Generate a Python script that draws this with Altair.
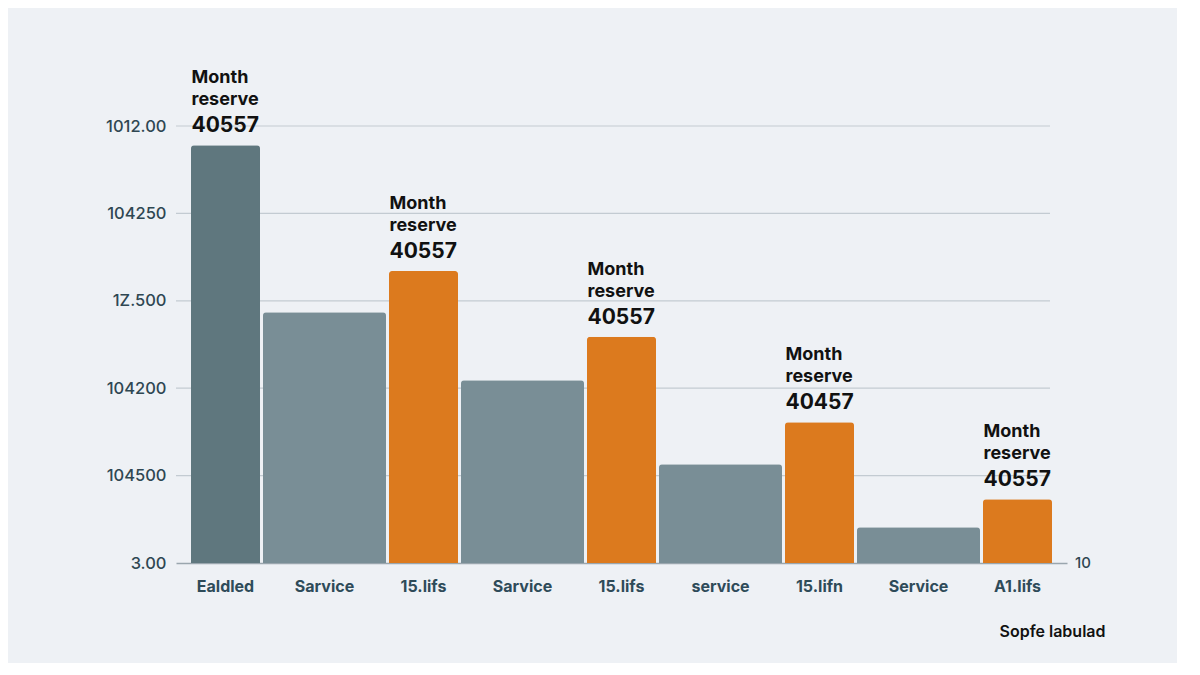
import altair as alt
import pandas as pd

# category labels, bar heights (in y-tick units), bar kind and the note over bars
labels = ["Ealdled", "Sarvice", "15.lifs", "Sarvice", "15.lifs", "service", "15.lifn", "Service", "A1.lifs"]
values = [4.78, 2.87, 3.34, 2.09, 2.59, 1.13, 1.61, 0.41, 0.73]
kinds = ["dark", "gray", "orange", "gray", "orange", "gray", "orange", "gray", "orange"]
notes = ["40557", "", "40557", "", "40557", "", "40457", "", "40557"]

y_ticks = [0, 1, 2, 3, 4, 5]
y_tick_labels = ["3.00", "104500", "104200", "1Z.500", "104250", "1012.00"]

df = pd.DataFrame({
    "idx": list(range(len(labels))),
    "label": labels,
    "value": values,
    "kind": kinds,
    "note": notes,
})

W, H = 891, 437
FONT = "Inter"

x_label_expr = "[" + ",".join("'%s'" % s for s in labels) + "][datum.value]"
y_label_expr = "[" + ",".join("'%s'" % s for s in y_tick_labels) + "][datum.value]"

x_enc = alt.X("idx:O", scale=alt.Scale(paddingInner=0, paddingOuter=0),
              axis=alt.Axis(labelExpr=x_label_expr, labelAngle=0, ticks=False,
                            domainColor="#9aa6ae", domainWidth=1.5,
                            labelFont=FONT, labelFontSize=16, labelFontWeight="bold",
                            labelColor="#2e4b59", labelPadding=15, labelBaseline="top",
                            title="Sopfe labulad", titleFont=FONT, titleFontSize=16,
                            titleFontWeight=600, titleColor="#111111",
                            titleX=929, titleY=60, titleAlign="right", titleBaseline="top"))

y_scale = alt.Scale(domain=[0, 5], nice=False)
y_enc = alt.Y("value:Q", scale=y_scale,
              axis=alt.Axis(values=y_ticks, labelExpr=y_label_expr, title=None,
                            domain=False, ticks=False, grid=False,
                            labelFont=FONT, labelFontSize=16.5,
                            labelFontWeight=500, labelColor="#2f4752", labelPadding=10))
color_enc = alt.Color("kind:N", legend=None,
                      scale=alt.Scale(domain=["dark", "gray", "orange"],
                                      range=["#5f777e", "#798e96", "#dc7a1e"]))

# horizontal grid lines, stopping short of the right end of the baseline
grid = alt.Chart(pd.DataFrame({"v": y_ticks[1:]})).mark_rule(
    color="#c3cbd2", strokeWidth=1.2
).encode(y=alt.Y("v:Q", scale=y_scale), x=alt.value(0), x2=alt.value(874))

# narrow bars (dark + orange) and wide gray "service" bars
narrow = alt.Chart(df).transform_filter("datum.kind != 'gray'").mark_bar(
    size=69, cornerRadiusTopLeft=3, cornerRadiusTopRight=3
).encode(x=x_enc, y=y_enc, color=color_enc)

wide = alt.Chart(df).transform_filter("datum.kind == 'gray'").mark_bar(
    size=123, cornerRadiusTopLeft=3, cornerRadiusTopRight=3
).encode(x=x_enc, y=y_enc, color=color_enc)

noted = alt.Chart(df).transform_filter("datum.note != ''")

num_text = noted.mark_text(align="left", baseline="middle", dx=-34, dy=-19,
                           font=FONT, fontSize=21, fontWeight="bold", color="#111111").encode(
    x="idx:O", y=alt.Y("value:Q", scale=y_scale), text="note:N")

reserve_text = noted.mark_text(align="left", baseline="middle", dx=-34, dy=-45,
                               font=FONT, fontSize=18, fontWeight="bold", color="#111111").encode(
    x="idx:O", y=alt.Y("value:Q", scale=y_scale), text=alt.value("reserve"))

month_text = noted.mark_text(align="left", baseline="middle", dx=-34, dy=-67,
                             font=FONT, fontSize=18, fontWeight="bold", color="#111111").encode(
    x="idx:O", y=alt.Y("value:Q", scale=y_scale), text=alt.value("Month"))

right_label = alt.Chart(pd.DataFrame({"v": [0]})).mark_text(
    align="left", baseline="middle", font=FONT, fontSize=15, fontWeight=500,
    color="#2f4752").encode(x=alt.value(W + 8), y=alt.Y("v:Q", scale=y_scale), text=alt.value("10"))

chart = alt.layer(grid, wide, narrow, num_text, reserve_text, month_text, right_label).properties(
    width=W, height=H,
    autosize=alt.AutoSizeParams(type="none"),
    padding={"left": 168, "top": 118, "right": 110, "bottom": 100},
    background="#eef1f5",
).configure_view(stroke=None)

chart.save("out.html", embed_options={"renderer": "svg", "actions": False})
